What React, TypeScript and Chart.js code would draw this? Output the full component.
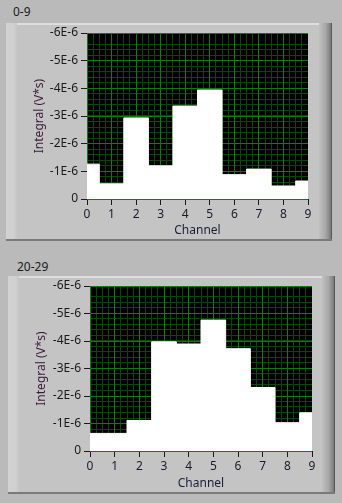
import React, { useEffect, useRef } from 'react';
import { Chart, registerables } from 'chart.js';

Chart.register(...registerables);

// ---- data ----
const channels = [0, 1, 2, 3, 4, 5, 6, 7, 8, 9];
const xTickLabels = ['0', '1', '2', '3', '4', '5', '6', '7', '8', '9'];
const yTickLabels = ['0', '-1E-6', '-2E-6', '-3E-6', '-4E-6', '-5E-6', '-6E-6'];
const values0to9 = [-1.26e-6, -0.55e-6, -2.93e-6, -1.2e-6, -3.36e-6, -3.94e-6, -0.88e-6, -1.08e-6, -0.47e-6, -0.65e-6];
const values20to29 = [-0.64e-6, -0.64e-6, -1.11e-6, -3.97e-6, -3.89e-6, -4.76e-6, -3.72e-6, -2.31e-6, -1.03e-6, -1.39e-6];
const panelTitles = ['0-9', '20-29'];
const xAxisTitle = 'Channel';
const yAxisTitle = 'Integral (V*s)';

const FONT = '"Noto Sans", "DejaVu Sans", sans-serif';
const MAJOR = '#107c10';
const MINOR = '#0a460a';
const NONE = 'rgba(0,0,0,0)';

type Rect = { left: number; top: number; width: number; height: number };
type PlotBox = { left: number; top: number; right: number; bottom: number };

const zeroPad = (s: any) => {
  s.paddingLeft = 0;
  s.paddingRight = 0;
  s.paddingTop = 0;
  s.paddingBottom = 0;
};

const bgPlugin = {
  id: 'plotBg',
  beforeDraw(chart: any) {
    const { ctx, chartArea } = chart;
    ctx.save();
    ctx.fillStyle = '#000000';
    ctx.fillRect(chartArea.left, chartArea.top, chartArea.right - chartArea.left, chartArea.bottom - chartArea.top);
    ctx.restore();
  },
};

const hideAtMax = (color: string) => (c: any) => (c.tick && Math.abs(c.tick.value - 9) < 1e-9 ? NONE : color);

function Panel({ title, values, rect, plot, titlePos }: { title: string; values: number[]; rect: Rect; plot: PlotBox; titlePos: { x: number; y: number } }) {
  const ref = useRef<HTMLCanvasElement | null>(null);

  useEffect(() => {
    if (!ref.current) return;
    const chart = new Chart(ref.current, {
      type: 'line',
      data: {
        datasets: [
          {
            data: channels.map((c, i) => ({ x: c, y: values[i] })),
            stepped: 'middle',
            fill: 'origin',
            backgroundColor: '#ffffff',
            borderColor: '#ffffff',
            borderWidth: 1,
            pointRadius: 0,
          },
        ],
      },
      options: {
        animation: false,
        responsive: false,
        devicePixelRatio: 1,
        layout: { padding: { left: 0, top: plot.top, right: rect.width - plot.right, bottom: 0 } },
        plugins: { legend: { display: false }, tooltip: { enabled: false } },
        scales: {
          xMinor: {
            type: 'linear',
            position: 'bottom',
            min: 0,
            max: 9,
            ticks: { display: false, stepSize: 0.25, autoSkip: false },
            grid: { color: hideAtMax(MINOR), drawTicks: false, z: -2, lineWidth: 1 },
            border: { display: false },
            afterFit: (s: any) => { s.height = 0; zeroPad(s); },
          },
          yMinor: {
            type: 'linear',
            position: 'left',
            reverse: true,
            min: -6e-6,
            max: 0,
            ticks: { display: false, stepSize: 0.2e-6, autoSkip: false },
            grid: { color: MINOR, drawTicks: false, z: -2, lineWidth: 1 },
            border: { display: false },
            afterFit: (s: any) => { s.width = 0; zeroPad(s); },
          },
          x: {
            type: 'linear',
            position: 'bottom',
            min: 0,
            max: 9,
            ticks: {
              stepSize: 1,
              autoSkip: false,
              maxRotation: 0,
              padding: 2,
              color: '#1a1a2a',
              font: { family: FONT, size: 12 },
              callback: (v: any) => xTickLabels[Math.round(Number(v))],
            },
            grid: { color: hideAtMax(MAJOR), tickColor: '#1a1a1a', tickLength: 6, lineWidth: 1, z: -1 },
            border: { display: false },
            title: { display: true, text: xAxisTitle, color: '#1c1c3a', font: { family: FONT, size: 12 }, padding: { top: 0, bottom: 3 } },
            afterFit: (s: any) => { s.height = rect.height - plot.bottom; zeroPad(s); },
          },
          y: {
            type: 'linear',
            position: 'left',
            reverse: true,
            min: -6e-6,
            max: 0,
            ticks: {
              stepSize: 1e-6,
              autoSkip: false,
              padding: 3,
              color: '#1a1a1a',
              font: { family: FONT, size: 12 },
              callback: (v: any) => yTickLabels[Math.round(-Number(v) * 1e6)],
            },
            grid: { color: MAJOR, tickColor: '#1a1a1a', tickLength: 6, lineWidth: 1, z: -1 },
            border: { display: false },
            title: { display: true, text: yAxisTitle, color: '#3a1c3a', font: { family: FONT, size: 12 }, padding: { top: 26, bottom: 0 } },
            afterFit: (s: any) => { s.width = plot.left; zeroPad(s); },
          },
        },
      } as any,
      plugins: [bgPlugin],
    });
    return () => chart.destroy();
  }, [values, rect, plot]);

  return (
    <>
      <div
        style={{
          position: 'absolute',
          left: titlePos.x,
          top: titlePos.y,
          font: `12px ${FONT}`,
          color: '#1a1a1a',
          lineHeight: '14px',
          whiteSpace: 'nowrap',
        }}
      >
        {title}
      </div>
      <div
        style={{
          position: 'absolute',
          left: rect.left,
          top: rect.top,
          width: rect.width,
          height: rect.height,
          background: '#c4c4c4',
          boxSizing: 'border-box',
        }}
      >
        <div style={{ position: 'absolute', left: 0, top: 0, width: rect.width - 12, height: 2, background: '#dedede' }} />
        <div style={{ position: 'absolute', left: 0, top: 0, width: 11, height: rect.height - 2, background: 'linear-gradient(to right, #d2d2d2, #d0d0d0 70%, #c6c6c6)' }} />
        <div style={{ position: 'absolute', right: 0, top: 0, width: 13, height: rect.height, background: 'linear-gradient(to right, #c0c0c0, #a8a8a8 50%, #7c7c7c 90%, #404040)' }} />
        <div style={{ position: 'absolute', left: 0, bottom: 0, width: rect.width, height: 2, background: '#7a7a7a' }} />
        <canvas
          ref={ref}
          width={rect.width}
          height={rect.height}
          style={{ position: 'absolute', left: 0, top: 0, width: rect.width, height: rect.height }}
        />
      </div>
    </>
  );
}

const topRect: Rect = { left: 6, top: 23, width: 326, height: 218 };
const topPlot: PlotBox = { left: 81, top: 10, right: 302, bottom: 176 };
const botRect: Rect = { left: 8, top: 276, width: 327, height: 218 };
const botPlot: PlotBox = { left: 82, top: 10, right: 304, bottom: 175 };

export default function App() {
  return (
    <div style={{ position: 'absolute', left: 0, top: 0, width: 342, height: 503, background: '#bababa', overflow: 'hidden' }}>
      <Panel title={panelTitles[0]} values={values0to9} rect={topRect} plot={topPlot} titlePos={{ x: 13, y: 5 }} />
      <Panel title={panelTitles[1]} values={values20to29} rect={botRect} plot={botPlot} titlePos={{ x: 17, y: 260 }} />
    </div>
  );
}
